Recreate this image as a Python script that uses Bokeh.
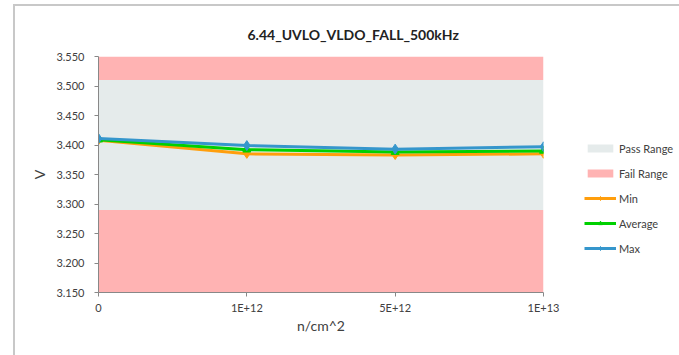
from bokeh.plotting import figure
from bokeh.models import Legend, LegendItem, FixedTicker, NumeralTickFormatter, Range1d
from bokeh.embed import file_html
from bokeh.resources import INLINE

categories = ["0", "1E+12", "5E+12", "1E+13"]
min_vals = [3.408, 3.385, 3.383, 3.385]
avg_vals = [3.409, 3.392, 3.388, 3.390]
max_vals = [3.411, 3.399, 3.393, 3.397]
pass_low = 3.290
pass_high = 3.510
y_min = 3.150
y_max = 3.550
y_ticks = [3.150, 3.200, 3.250, 3.300, 3.350, 3.400, 3.450, 3.500, 3.550]

FONT = "Lato"
xs = list(range(len(categories)))
x_lo, x_hi = xs[0], xs[-1]

p = figure(frame_width=445, frame_height=236, output_backend="svg", toolbar_location=None,
           x_range=Range1d(x_lo, x_hi), y_range=Range1d(y_min, y_max),
           min_border_left=83, min_border_right=136, min_border_top=50,
           min_border_bottom=63,
           title="6.44_UVLO_VLDO_FALL_500kHz")
p.styles = {"margin-left": "13px", "margin-top": "4px",
            "border-left": "2px solid #c8c8c8", "border-top": "2px solid #c8c8c8"}
p.outline_line_color = None
p.grid.visible = False
p.background_fill_color = "white"

p.title.text_font = FONT
p.title.text_font_size = "14px"
p.title.text_font_style = "bold"
p.title.text_color = "#222222"
p.title.align = "left"
p.title.offset = 149
p.title.standoff = 27

pass_r = p.quad(left=x_lo, right=x_hi, bottom=pass_low, top=pass_high,
                fill_color="#e5ebeb", line_color=None)
fail_hi = p.quad(left=x_lo, right=x_hi, bottom=pass_high, top=y_max,
                 fill_color="#ffb3b3", line_color=None)
fail_lo = p.quad(left=x_lo, right=x_hi, bottom=y_min, top=pass_low,
                 fill_color="#ffb3b3", line_color=None)

series = [("Min", min_vals, "#ff9e0c", "diamond", 9),
          ("Average", avg_vals, "#00d000", "triangle", 8),
          ("Max", max_vals, "#3596cc", "diamond", 10)]
items = [LegendItem(label="Pass Range", renderers=[pass_r]),
         LegendItem(label="Fail Range", renderers=[fail_hi])]
for name, vals, col, mk, sz in series:
    l = p.line(xs, vals, line_color=col, line_width=3)
    s = p.scatter(xs, vals, marker=mk, size=sz, fill_color=col, line_color=col)
    items.append(LegendItem(label=name, renderers=[l, s]))

# axes
for ax in (p.xaxis[0], p.yaxis[0]):
    ax.axis_line_color = "#888888"
    ax.major_tick_line_color = "#888888"
    ax.minor_tick_line_color = None
    ax.major_tick_out = 4
    ax.major_tick_in = 0
    ax.major_label_text_font = FONT
    ax.major_label_text_font_size = "11px"
    ax.major_label_text_color = "#404040"
    ax.axis_label_text_font = FONT
    ax.axis_label_text_font_size = "14px"
    ax.axis_label_text_font_style = "normal"
    ax.axis_label_text_color = "#404040"

p.yaxis.ticker = FixedTicker(ticks=y_ticks)
p.yaxis.formatter = NumeralTickFormatter(format="0.000")
p.yaxis.axis_label = "V"
p.yaxis.major_label_standoff = 10
p.yaxis.axis_label_standoff = 5

p.xaxis.ticker = FixedTicker(ticks=xs)
p.xaxis.major_label_overrides = {i: c for i, c in zip(xs, categories)}
p.xaxis.axis_label = "n/cm^2"
p.xaxis.major_label_standoff = 4
p.xaxis.axis_label_standoff = 0

legend = Legend(items=items, location=(41, 36), orientation="vertical",
                glyph_width=32, glyph_height=10, label_height=16, spacing=9,
                label_text_font=FONT, label_text_font_size="11px",
                label_text_color="#404040", label_standoff=3,
                border_line_color=None, background_fill_alpha=0,
                padding=0, margin=0)
p.add_layout(legend, "right")

open("out.html", "w").write(file_html(p, INLINE))
